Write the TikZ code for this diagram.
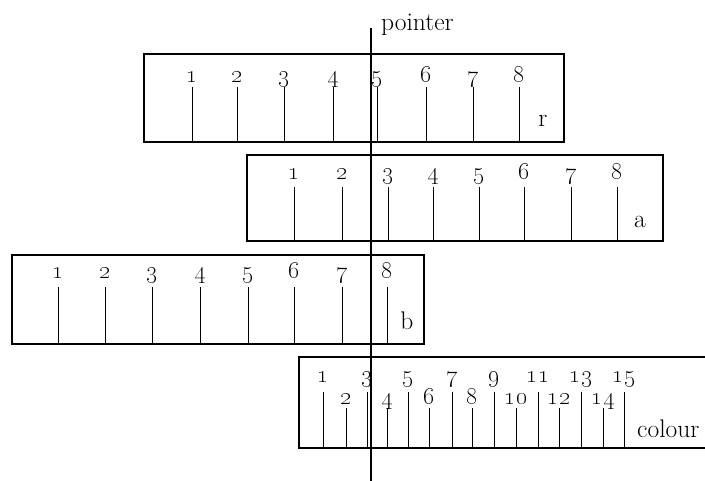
\documentclass[tikz,border=0pt]{standalone}
\DeclareFontShape{OML}{cmm}{m}{it}{<->cmmi10}{\skewchar\font'177}
\tikzset{
  frame/.style={line width=1.2pt},
  tk/.style={line width=0.9pt},
  num/.style={font=\fontsize{27}{30}\selectfont, inner sep=0pt, anchor=base},
  smallnum/.style={font=\fontsize{24}{28}\selectfont, inner sep=0pt, anchor=base},
  word/.style={font=\fontsize{25.5}{29}\selectfont, inner sep=0pt, anchor=base},
  ptr/.style={line width=1.5pt}
}
\begin{document}
\begin{tikzpicture}[x=1pt,y=-1pt]
\useasboundingbox (0,0) rectangle (705,481);
% strip r
\draw[frame] (144,54) rectangle (564,142);
\foreach \x [count=\i] in {192,237,284,333,377,426,473,519} {
  \draw[tk] (\x,87) -- (\x,142);
  \node[num] (r\i) at (\x,83) {\oldstylenums{\i}};
}
\node[word] (rl) at (543,127) {r};
% strip a
\draw[frame] (247,155) rectangle (663,241);
\foreach \x [count=\i] in {294,342,388,433,479,524,571,617} {
  \draw[tk] (\x,187) -- (\x,241);
  \node[num] (a\i) at (\x,180) {\oldstylenums{\i}};
}
\node[word] (al) at (640,228) {a};
% strip b
\draw[frame] (12,255) rectangle (424,344);
\foreach \x [count=\i] in {58,105,152,200,248,294,342,387} {
  \draw[tk] (\x,287) -- (\x,344);
  \node[num] (b\i) at (\x,279) {\oldstylenums{\i}};
}
\node[word] (bl) at (407,330) {b};
% strip colour
\draw[frame] (705,357) -- (299,357) -- (299,448) -- (705,448);
\foreach \x [count=\i] in {323,367,408,452,494,538,581,624} {
  \pgfmathtruncatemacro{\n}{2*\i-1}
  \draw[tk] (\x,392) -- (\x,448);
  \node[smallnum] (co\i) at (\x,383) {\oldstylenums{\n}};
}
\foreach \x [count=\i] in {346,387,429,472,516,559,603} {
  \pgfmathtruncatemacro{\n}{2*\i}
  \draw[tk] (\x,408) -- (\x,448);
  \node[smallnum] (ce\i) at (\x,404) {\oldstylenums{\n}};
}
\node[word, anchor=base west] (cl) at (637,437) {colour};
% pointer
\coordinate (ptop) at (371,28);
\coordinate (pbot) at (371,481);
\draw[ptr] (ptop) -- (pbot);
\node[word, anchor=base west] (pl) at (381,31) {pointer};
\end{tikzpicture}
\end{document}
